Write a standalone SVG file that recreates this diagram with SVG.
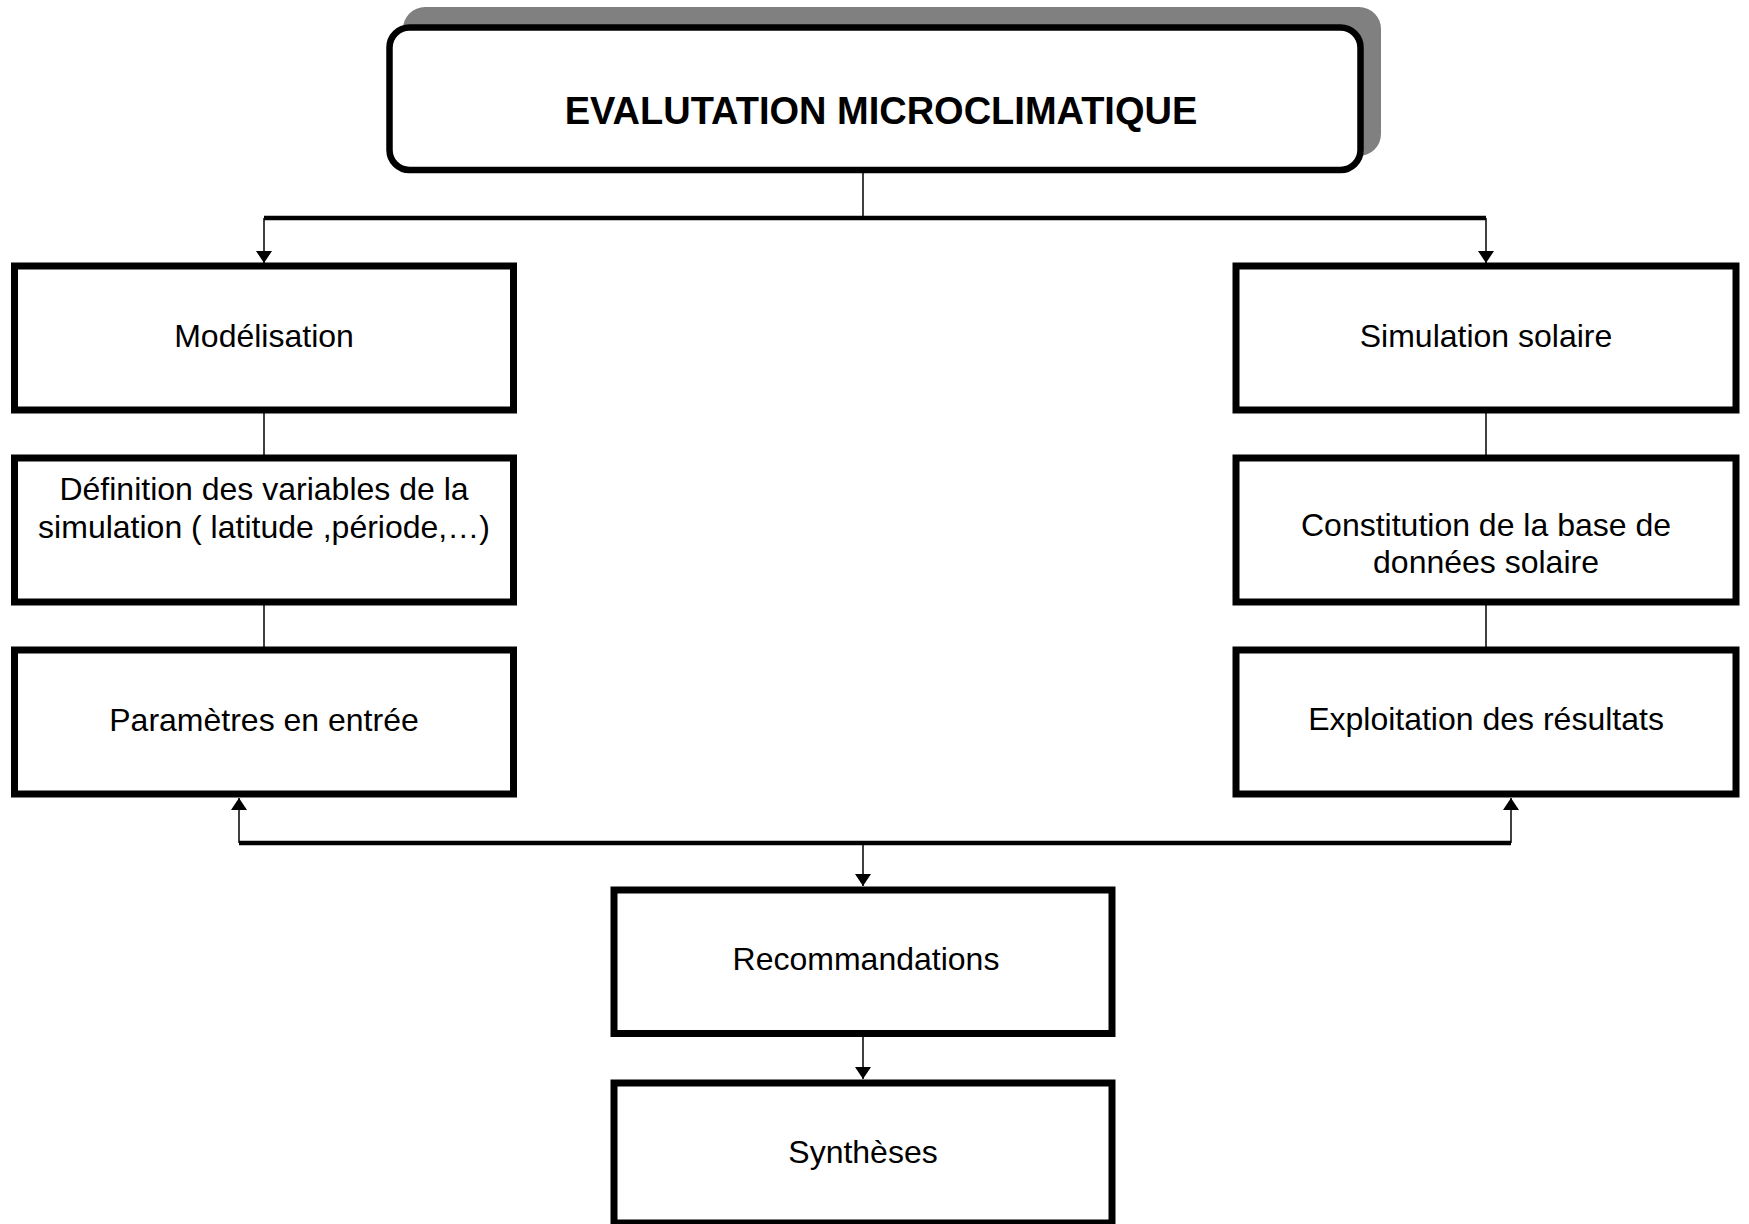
<svg xmlns="http://www.w3.org/2000/svg" width="1749" height="1224" viewBox="0 0 1749 1224">
<style>
.box{fill:#fff;stroke:#000;stroke-width:7}
.t{font-family:"Liberation Sans",Arial,sans-serif;font-size:32px;fill:#000;text-anchor:middle}
.title{font-family:"Liberation Sans",Arial,sans-serif;font-size:38px;font-weight:bold;fill:#000;text-anchor:middle}
.thin{stroke:#000;stroke-width:1.5;fill:none}
.thick{stroke:#000;stroke-width:4.5;fill:none}
</style>
<defs>
<marker id="ah" markerUnits="userSpaceOnUse" markerWidth="12" markerHeight="16" viewBox="0 0 12 16" refX="12" refY="8" orient="auto">
<path d="M0,0 L12,8 L0,16 z" fill="#000"/>
</marker>
</defs>
<rect width="1749" height="1224" fill="#fff"/>
<g id="connectors">
<line class="thin" x1="863" y1="172" x2="863" y2="218"/>
<polyline class="thick" points="264,218 1486,218"/>
<line class="thin" x1="264" y1="218" x2="264" y2="263" marker-end="url(#ah)"/>
<line class="thin" x1="1486" y1="218" x2="1486" y2="263" marker-end="url(#ah)"/>
<line class="thin" x1="264" y1="413" x2="264" y2="455"/>
<line class="thin" x1="264" y1="605" x2="264" y2="647"/>
<line class="thin" x1="1486" y1="413" x2="1486" y2="455"/>
<line class="thin" x1="1486" y1="605" x2="1486" y2="647"/>
<polyline class="thick" points="239,843 1511,843"/>
<line class="thin" x1="239" y1="843" x2="239" y2="798" marker-end="url(#ah)"/>
<line class="thin" x1="1511" y1="843" x2="1511" y2="798" marker-end="url(#ah)"/>
<line class="thin" x1="863" y1="843" x2="863" y2="886" marker-end="url(#ah)"/>
<line class="thin" x1="863" y1="1036" x2="863" y2="1079" marker-end="url(#ah)"/>
</g>
<g id="title">
<rect x="403" y="7" width="978" height="149" rx="22" fill="#808080"/>
<rect x="389.5" y="27.5" width="971" height="142.5" rx="20" fill="#fff" stroke="#000" stroke-width="6.5"/>
<text class="title" x="881" y="124">EVALUTATION MICROCLIMATIQUE</text>
</g>
<g id="modelisation">
<rect class="box" x="14.5" y="266" width="499" height="144"/>
<text class="t" x="264" y="347">Modélisation</text>
</g>
<g id="definition">
<rect class="box" x="14.5" y="458" width="499" height="144"/>
<text class="t" x="264" y="500">Définition des variables de la</text>
<text class="t" x="264" y="538">simulation ( latitude ,période,…)</text>
</g>
<g id="parametres">
<rect class="box" x="14.5" y="650" width="499" height="144"/>
<text class="t" x="264" y="731">Paramètres en entrée</text>
</g>
<g id="simulation">
<rect class="box" x="1236" y="266" width="500" height="144"/>
<text class="t" x="1486" y="347">Simulation solaire</text>
</g>
<g id="constitution">
<rect class="box" x="1236" y="458" width="500" height="144"/>
<text class="t" x="1486" y="536">Constitution de la base de</text>
<text class="t" x="1486" y="573">données solaire</text>
</g>
<g id="exploitation">
<rect class="box" x="1236" y="650" width="500" height="144"/>
<text class="t" x="1486" y="730">Exploitation des résultats</text>
</g>
<g id="recommandations">
<rect class="box" x="614" y="890" width="498" height="143.5"/>
<text class="t" x="866" y="970">Recommandations</text>
</g>
<g id="syntheses">
<rect class="box" x="614" y="1083" width="498" height="140"/>
<text class="t" x="863" y="1163">Synthèses</text>
</g>
</svg>
